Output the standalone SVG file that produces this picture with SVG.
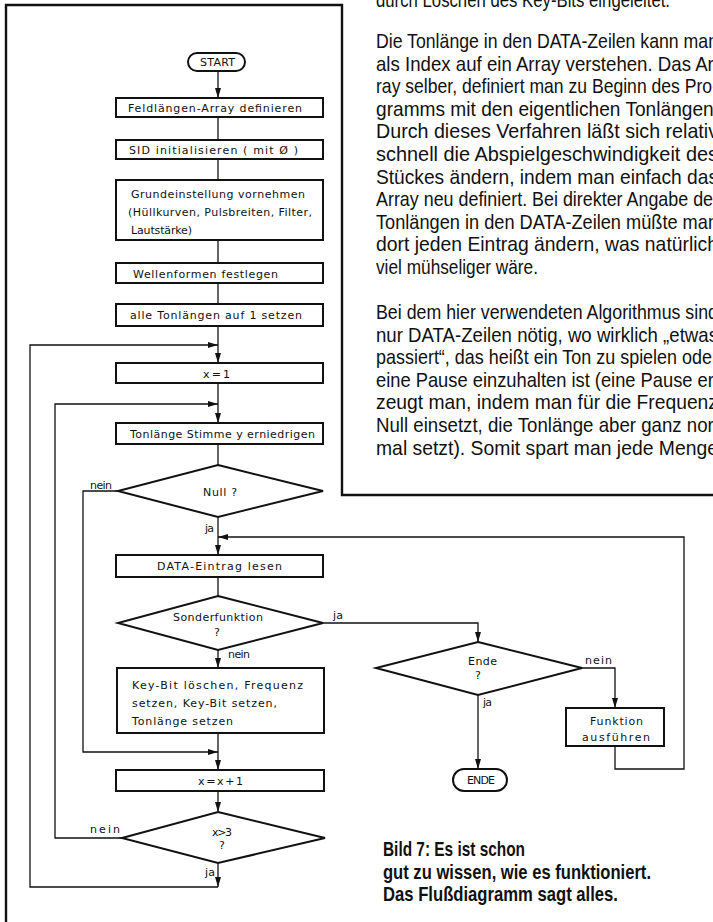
<svg xmlns="http://www.w3.org/2000/svg" width="713" height="922" viewBox="0 0 713 922">
<defs>
<marker id="ah" markerUnits="userSpaceOnUse" markerWidth="10" markerHeight="7" refX="10" refY="3.5" orient="auto">
<path d="M0,0.5 L10,3.5 L0,6.5 z" fill="#111"/>
</marker>
<style>
.frame{fill:none;stroke:#111;stroke-width:2.4}
.box{fill:#fff;stroke:#111;stroke-width:2}
.con{fill:none;stroke:#111;stroke-width:1.3}
.lbl{font-family:"DejaVu Sans","Liberation Sans",sans-serif;font-size:11px;fill:#111}
.para{font-family:"Liberation Sans Narrow","Liberation Sans",Arial,sans-serif;font-size:21px;fill:#111}
.cap{font-family:"Liberation Sans Narrow","Liberation Sans",Arial,sans-serif;font-size:21px;font-weight:bold;fill:#111}
</style>
</defs>
<rect width="713" height="922" fill="#fff"/>
<g id="frame">
<path class="frame" d="M6,922 L6,5 L342,5 L342,495 L713,495"/>
</g>
<g id="text-column">
<text class="para" x="376" y="7" textLength="294" lengthAdjust="spacingAndGlyphs">durch Löschen des Key-Bits eingeleitet.</text>
<text class="para" x="376" y="48" textLength="342" lengthAdjust="spacingAndGlyphs">Die Tonlänge in den DATA-Zeilen kann man</text>
<text class="para" x="376" y="70.6" textLength="344" lengthAdjust="spacingAndGlyphs">als Index auf ein Array verstehen. Das Ar-</text>
<text class="para" x="376" y="93.2" textLength="342" lengthAdjust="spacingAndGlyphs">ray selber, definiert man zu Beginn des Pro-</text>
<text class="para" x="376" y="115.8" textLength="343" lengthAdjust="spacingAndGlyphs">gramms mit den eigentlichen Tonlängen.</text>
<text class="para" x="376" y="138.4" textLength="342" lengthAdjust="spacingAndGlyphs">Durch dieses Verfahren läßt sich relativ</text>
<text class="para" x="376" y="161" textLength="342" lengthAdjust="spacingAndGlyphs">schnell die Abspielgeschwindigkeit des</text>
<text class="para" x="376" y="183.6" textLength="342" lengthAdjust="spacingAndGlyphs">Stückes ändern, indem man einfach das</text>
<text class="para" x="376" y="206.2" textLength="343" lengthAdjust="spacingAndGlyphs">Array neu definiert. Bei direkter Angabe der</text>
<text class="para" x="376" y="228.8" textLength="342" lengthAdjust="spacingAndGlyphs">Tonlängen in den DATA-Zeilen müßte man</text>
<text class="para" x="376" y="251.4" textLength="342" lengthAdjust="spacingAndGlyphs">dort jeden Eintrag ändern, was natürlich</text>
<text class="para" x="376" y="274" textLength="162" lengthAdjust="spacingAndGlyphs">viel mühseliger wäre.</text>
<text class="para" x="376" y="319" textLength="342" lengthAdjust="spacingAndGlyphs">Bei dem hier verwendeten Algorithmus sind</text>
<text class="para" x="376" y="341.6" textLength="342" lengthAdjust="spacingAndGlyphs">nur DATA-Zeilen nötig, wo wirklich „etwas</text>
<text class="para" x="376" y="364.2" textLength="342" lengthAdjust="spacingAndGlyphs">passiert“, das heißt ein Ton zu spielen oder</text>
<text class="para" x="376" y="386.8" textLength="344" lengthAdjust="spacingAndGlyphs">eine Pause einzuhalten ist (eine Pause er-</text>
<text class="para" x="376" y="409.4" textLength="342" lengthAdjust="spacingAndGlyphs">zeugt man, indem man für die Frequenz</text>
<text class="para" x="376" y="432" textLength="344" lengthAdjust="spacingAndGlyphs">Null einsetzt, die Tonlänge aber ganz nor-</text>
<text class="para" x="376" y="454.6" textLength="342" lengthAdjust="spacingAndGlyphs">mal setzt). Somit spart man jede Menge</text>
</g>
<g id="connectors">
<path class="con" d="M218,71 L218,98" marker-end="url(#ah)"/>
<path class="con" d="M218,117 L218,140"/>
<path class="con" d="M218,159 L218,180"/>
<path class="con" d="M218,240 L218,263"/>
<path class="con" d="M218,283 L218,304"/>
<path class="con" d="M218,326 L218,363" marker-end="url(#ah)"/>
<path class="con" d="M218,383 L218,423" marker-end="url(#ah)"/>
<path class="con" d="M218,444 L218,465"/>
<path class="con" d="M218,517 L218,555" marker-end="url(#ah)"/>
<path class="con" d="M218,577 L218,596"/>
<path class="con" d="M218,650 L218,668" marker-end="url(#ah)"/>
<path class="con" d="M218,733 L218,770" marker-end="url(#ah)"/>
<path class="con" d="M218,791 L218,812" marker-end="url(#ah)"/>
<path class="con" d="M218,863 L218,887" marker-end="url(#ah)"/>
<path class="con" d="M218,887 L30,887 L30,345 L218,345" marker-end="url(#ah)"/>
<path class="con" d="M122,838 L55,838 L55,404 L218,404" marker-end="url(#ah)"/>
<path class="con" d="M118,491 L83,491 L83,752 L218,752" marker-end="url(#ah)"/>
<path class="con" d="M323,623 L478,623 L478,642" marker-end="url(#ah)"/>
<path class="con" d="M582,668 L615,668 L615,708" marker-end="url(#ah)"/>
<path class="con" d="M478,695 L478,769" marker-end="url(#ah)"/>
<path class="con" d="M615,746 L615,769 L684,769 L684,537 L218,537" marker-end="url(#ah)"/>
</g>
<g id="start">
<rect class="box" x="188" y="53" width="57" height="18" rx="9"/>
<text class="lbl" x="200" y="66" textLength="35" lengthAdjust="spacing">START</text>
</g>
<g id="feldlaengen">
<rect class="box" x="116" y="98" width="207" height="19"/>
<text class="lbl" x="128" y="111.5" textLength="174" lengthAdjust="spacing">Feldlängen-Array definieren</text>
</g>
<g id="sid">
<rect class="box" x="116" y="140" width="207" height="19"/>
<text class="lbl" x="129" y="153.5" textLength="169" lengthAdjust="spacing">SID initialisieren  ( mit Ø )</text>
</g>
<g id="grundeinstellung">
<rect class="box" x="116" y="180" width="207" height="60"/>
<text class="lbl" x="131" y="198" textLength="174" lengthAdjust="spacing">Grundeinstellung vornehmen</text>
<text class="lbl" x="128" y="216" textLength="184" lengthAdjust="spacing">(Hüllkurven, Pulsbreiten, Filter,</text>
<text class="lbl" x="131" y="234" textLength="61" lengthAdjust="spacing">Lautstärke)</text>
</g>
<g id="wellenformen">
<rect class="box" x="116" y="263" width="207" height="20"/>
<text class="lbl" x="133" y="277.5" textLength="145" lengthAdjust="spacing">Wellenformen festlegen</text>
</g>
<g id="alle-tonlaengen">
<rect class="box" x="116" y="304" width="207" height="22"/>
<text class="lbl" x="130" y="319" textLength="172" lengthAdjust="spacing">alle Tonlängen auf 1 setzen</text>
</g>
<g id="x-eq-1">
<rect class="box" x="116" y="363" width="207" height="20"/>
<text class="lbl" x="203" y="377.5" textLength="27" lengthAdjust="spacing">x = 1</text>
</g>
<g id="tonlaenge-erniedrigen">
<rect class="box" x="116" y="423" width="207" height="21"/>
<text class="lbl" x="130" y="438" textLength="185" lengthAdjust="spacing">Tonlänge Stimme y erniedrigen</text>
</g>
<g id="null">
<polygon class="box" points="218,465 323,491 218,517 118,491"/>
<text class="lbl" x="203" y="496" textLength="34" lengthAdjust="spacing">Null ?</text>
<text class="lbl" x="90" y="489" textLength="22" lengthAdjust="spacing">nein</text>
<text class="lbl" x="205" y="532" textLength="9" lengthAdjust="spacing">ja</text>
</g>
<g id="data-lesen">
<rect class="box" x="116" y="555" width="207" height="22"/>
<text class="lbl" x="157" y="570" textLength="125" lengthAdjust="spacing">DATA-Eintrag lesen</text>
</g>
<g id="sonderfunktion">
<polygon class="box" points="218,596 323,623 218,650 118,623"/>
<text class="lbl" x="173" y="621" textLength="90" lengthAdjust="spacing">Sonderfunktion</text>
<text class="lbl" x="214" y="636">?</text>
<text class="lbl" x="333" y="619" textLength="10" lengthAdjust="spacing">ja</text>
<text class="lbl" x="228" y="658" textLength="22" lengthAdjust="spacing">nein</text>
</g>
<g id="key-bit">
<rect class="box" x="117" y="668" width="207" height="65"/>
<text class="lbl" x="132" y="689" textLength="171" lengthAdjust="spacing">Key-Bit löschen, Frequenz</text>
<text class="lbl" x="132" y="707" textLength="145" lengthAdjust="spacing">setzen, Key-Bit setzen,</text>
<text class="lbl" x="132" y="725" textLength="101" lengthAdjust="spacing">Tonlänge setzen</text>
</g>
<g id="x-inc">
<rect class="box" x="116" y="770" width="208" height="21"/>
<text class="lbl" x="198" y="784.5" textLength="45" lengthAdjust="spacing">x = x + 1</text>
</g>
<g id="x-gt-3">
<polygon class="box" points="218,812 325,838 218,863 122,838"/>
<text class="lbl" x="212" y="836" textLength="20" lengthAdjust="spacing">x&gt;3</text>
<text class="lbl" x="219" y="849">?</text>
<text class="lbl" x="90" y="833" textLength="30" lengthAdjust="spacing">nein</text>
<text class="lbl" x="205" y="876" textLength="10" lengthAdjust="spacing">ja</text>
</g>
<g id="ende-decision">
<polygon class="box" points="478,642 582,668 478,695 376,668"/>
<text class="lbl" x="468" y="665" textLength="29" lengthAdjust="spacing">Ende</text>
<text class="lbl" x="475" y="679">?</text>
<text class="lbl" x="585" y="664" textLength="27" lengthAdjust="spacing">nein</text>
<text class="lbl" x="483" y="706" textLength="9" lengthAdjust="spacing">ja</text>
</g>
<g id="funktion">
<rect class="box" x="566" y="708" width="98" height="38"/>
<text class="lbl" x="590" y="725" textLength="53" lengthAdjust="spacing">Funktion</text>
<text class="lbl" x="582" y="741" textLength="68" lengthAdjust="spacing">ausführen</text>
</g>
<g id="ende">
<rect class="box" x="453" y="769" width="54" height="22" rx="11"/>
<text class="lbl" x="467" y="784" textLength="28" lengthAdjust="spacing">ENDE</text>
</g>
<g id="caption">
<text class="cap" x="383" y="856" textLength="142" lengthAdjust="spacingAndGlyphs">Bild 7: Es ist schon</text>
<text class="cap" x="383" y="879" textLength="268" lengthAdjust="spacingAndGlyphs">gut zu wissen, wie es funktioniert.</text>
<text class="cap" x="383" y="901" textLength="235" lengthAdjust="spacingAndGlyphs">Das Flußdiagramm sagt alles.</text>
</g>
</svg>
